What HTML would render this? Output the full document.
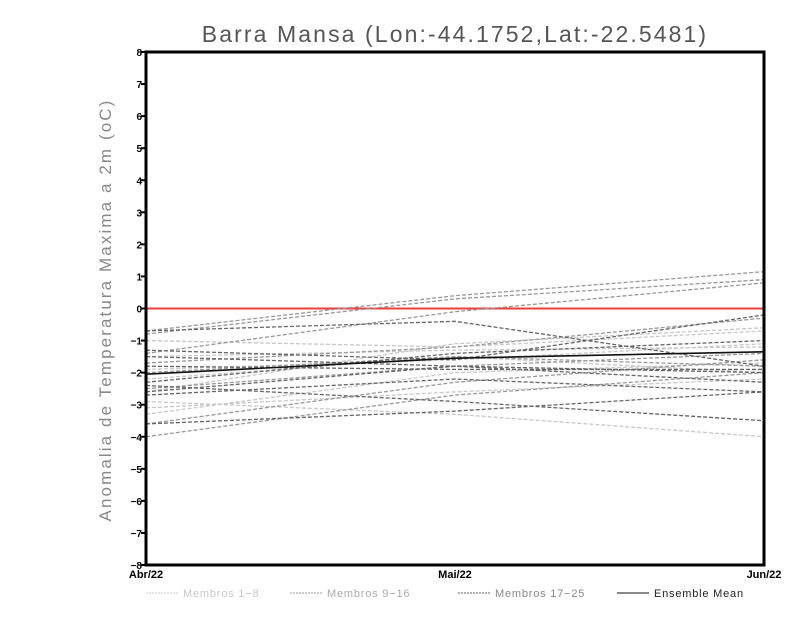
<!DOCTYPE html>
<html><head><meta charset="utf-8"><style>
body{margin:0;background:#fff;width:800px;height:618px;overflow:hidden}
svg{display:block;font-family:"Liberation Sans",sans-serif}
</style></head><body>
<svg id="chart" width="800" height="618">
<text x="455" y="42" text-anchor="middle" font-size="23" fill="#555" letter-spacing="2.1">Barra Mansa (Lon:-44.1752,Lat:-22.5481)</text>
<text transform="translate(111,310) rotate(-90)" text-anchor="middle" font-size="17" fill="#888" letter-spacing="2.1">Anomalia de Temperatura Maxima a 2m (oC)</text>
<g id="marks"></g>
<g id="axes"></g>
</svg>
<script>
const categories=["Abr/22","Mai/22","Jun/22"];
const yTicks=[-8,-7,-6,-5,-4,-3,-2,-1,0,1,2,3,4,5,6,7,8];
const membersLight=[[-1.0,-1.2,-0.7],[-2.9,-3.3,-4.0],[-1.5,-1.3,-1.2],[-3.1,-2.6,-2.2],[-2.6,-1.1,-0.6],[-1.9,-1.6,-1.1],[-3.3,-2.0,-1.7],[-2.2,-1.5,-2.0]];
const membersMid=[[-0.7,0.4,1.15],[-0.8,0.3,0.9],[-1.4,-0.1,0.8],[-3.6,-2.3,-1.6],[-4.0,-2.7,-2.0],[-1.7,-1.2,-0.3],[-2.5,-1.8,-1.4],[-2.0,-1.5,-1.8]];
const membersDark=[[-0.7,-0.4,-1.8],[-1.3,-1.6,-0.2],[-2.3,-1.4,-1.0],[-2.7,-2.2,-2.6],[-3.6,-3.2,-2.6],[-2.4,-2.9,-3.5],[-1.5,-1.8,-2.3],[-1.8,-1.9,-1.9],[-2.6,-1.8,-2.0]];
const ensembleMean=[-2.05,-1.55,-1.35];
const X0=146,X1=764,Y0=565,Y1=52;
const xs=i=>X0+(X1-X0)*i/(categories.length-1);
const ys=v=>Y0-(v+8)*(Y0-Y1)/16;
const NS="http://www.w3.org/2000/svg";
const marks=document.getElementById('marks'),axes=document.getElementById('axes');
function mk(tag,attrs,parent){const e=document.createElementNS(NS,tag);for(const k in attrs)e.setAttribute(k,attrs[k]);parent.appendChild(e);return e;}
function series(arr,color,dash,w,name){arr.forEach((s,j)=>{const p=mk('polyline',{points:s.map((v,i)=>xs(i)+','+ys(v)).join(' '),fill:'none',stroke:color,'stroke-width':w,'stroke-dasharray':dash},marks);

});}
const zl=mk('line',{x1:X0,x2:X1,y1:ys(0),y2:ys(0),stroke:'#f03c3c','stroke-width':2},marks);


series(membersLight,'#c8c8c8','4 2',1.3,'member-light');
series(membersMid,'#999','4 2',1.3,'member-mid');
series(membersDark,'#666','4 2',1.3,'member-dark');
const m=mk('polyline',{points:ensembleMean.map((v,i)=>xs(i)+','+ys(v)).join(' '),fill:'none',stroke:'#111','stroke-width':1.6},marks);


const fr=mk('rect',{x:X0,y:Y1,width:X1-X0,height:Y0-Y1,fill:'none',stroke:'#000','stroke-width':3},axes);


yTicks.forEach(v=>{const t=mk('line',{x1:X0-5,x2:X0,y1:ys(v),y2:ys(v),stroke:'#000','stroke-width':2},axes);


const l=mk('text',{x:X0-4,y:ys(v)+4,'text-anchor':'end','font-size':10,'font-weight':'bold'},axes);l.textContent=(v<0?'\u2212':'')+Math.abs(v);

});
categories.forEach((c,i)=>{const l=mk('text',{x:xs(i),y:578,'text-anchor':'middle','font-size':11,'font-weight':'bold'},axes);l.textContent=c;

});
const leg=[["Membros 1\u22128",'#c8c8c8','#c8c8c8','2 1',146],["Membros 9\u221216",'#aaa','#999','2 1',290],["Membros 17\u221225",'#888','#666','2 1',458],["Ensemble Mean",'#222','#111','',617]];
leg.forEach(e=>{const g=mk('g',{},axes);


mk('line',{x1:e[4],x2:e[4]+32,y1:593,y2:593,stroke:e[2],'stroke-width':1,'stroke-dasharray':e[3]},g);
const t=mk('text',{x:e[4]+37,y:597,'font-size':11,fill:e[1],'letter-spacing':0.8},g);t.textContent=e[0];});
</script>
</body></html>
